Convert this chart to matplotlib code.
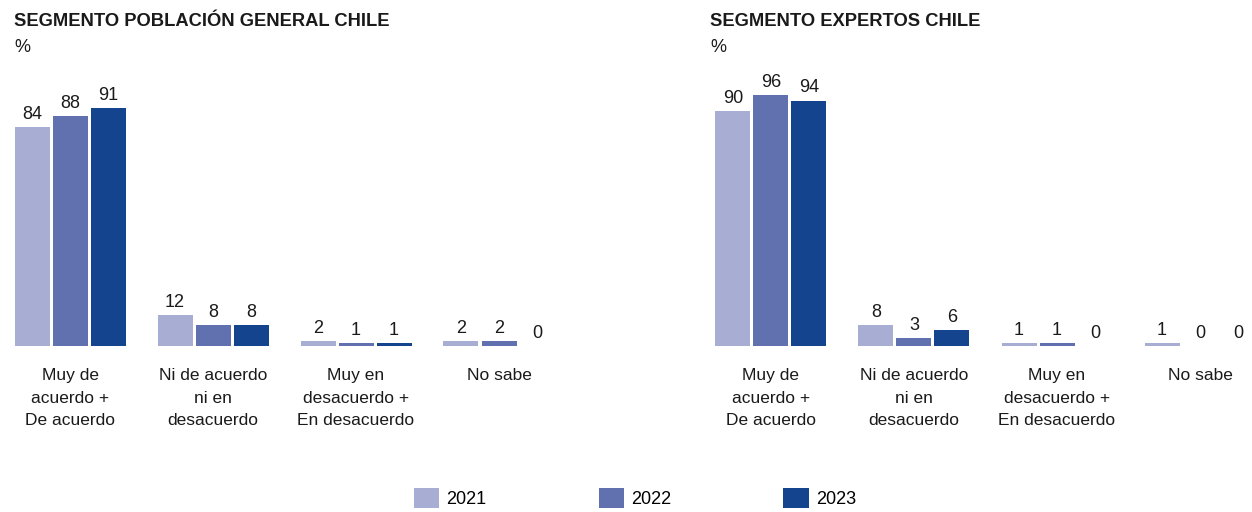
import numpy as np
import matplotlib.pyplot as plt
from matplotlib.patches import Patch

plt.rcParams['font.family'] = ['Liberation Sans', 'DejaVu Sans']

categories = ['Muy de\nacuerdo +\nDe acuerdo', 'Ni de acuerdo\nni en\ndesacuerdo',
              'Muy en\ndesacuerdo +\nEn desacuerdo', 'No sabe']
years = ['2021', '2022', '2023']
colors = ['#A7ADD3', '#6171B0', '#15448F']

general_2021 = [84, 12, 2, 2]
general_2022 = [88, 8, 1, 2]
general_2023 = [91, 8, 1, 0]

expertos_2021 = [90, 8, 1, 1]
expertos_2022 = [96, 3, 1, 0]
expertos_2023 = [94, 6, 0, 0]

W, H = 1252, 512
fig = plt.figure(figsize=(W / 100, H / 100), dpi=100)

group_px = 143.0
xmin, xmax = -0.45, 3.6
ax_w = (xmax - xmin) * group_px
base_y = 346
ax_h = 261


def make_axes(center0):
    left = center0 + xmin * group_px
    return fig.add_axes([left / W, (H - base_y) / H, ax_w / W, ax_h / H])


def draw_panel(ax, series):
    x = np.arange(len(categories))
    step = 38 / group_px
    width = 35 / group_px
    for i, (vals, col) in enumerate(zip(series, colors)):
        pos = x + (i - 1) * step
        bars = ax.bar(pos, vals, width=width, color=col, linewidth=0)
        for b, v in zip(bars, vals):
            ax.annotate(str(v), (b.get_x() + b.get_width() / 2, v),
                        xytext=(0, 3), textcoords='offset points',
                        ha='center', va='bottom', fontsize=13, color='#1a1a1a')
    ax.set_xlim(xmin, xmax)
    ax.set_ylim(0, 100)
    ax.set_xticks(x)
    ax.set_xticklabels(categories, fontsize=12.5, color='#1a1a1a', linespacing=1.62)
    ax.tick_params(axis='x', length=0, pad=16)
    ax.set_yticks([])
    for s in ax.spines.values():
        s.set_visible(False)
    ax.patch.set_alpha(0)


ax1 = make_axes(70)
draw_panel(ax1, [general_2021, general_2022, general_2023])
ax2 = make_axes(771)
draw_panel(ax2, [expertos_2021, expertos_2022, expertos_2023])

fig.text(14 / W, 1 - 22 / H, 'SEGMENTO POBLACIÓN GENERAL CHILE', fontsize=13.2,
         fontweight='bold', va='center', ha='left', color='#1a1a1a')
fig.text(14 / W, 1 - 48 / H, '%', fontsize=13, va='center', ha='left', color='#1a1a1a')
fig.text(710 / W, 1 - 22 / H, 'SEGMENTO EXPERTOS CHILE', fontsize=13.2,
         fontweight='bold', va='center', ha='left', color='#1a1a1a')
fig.text(710 / W, 1 - 48 / H, '%', fontsize=13, va='center', ha='left', color='#1a1a1a')

handles = [Patch(facecolor=c, edgecolor='none', label=y) for c, y in zip(colors, years)]
fig.legend(handles=handles, loc='center', bbox_to_anchor=(635 / W, 1 - 498 / H),
           ncol=3, frameon=False, fontsize=13, handlelength=1.4, handleheight=1.4,
           handletextpad=0.4, columnspacing=6.2)

plt.savefig('out.png', dpi=100)
